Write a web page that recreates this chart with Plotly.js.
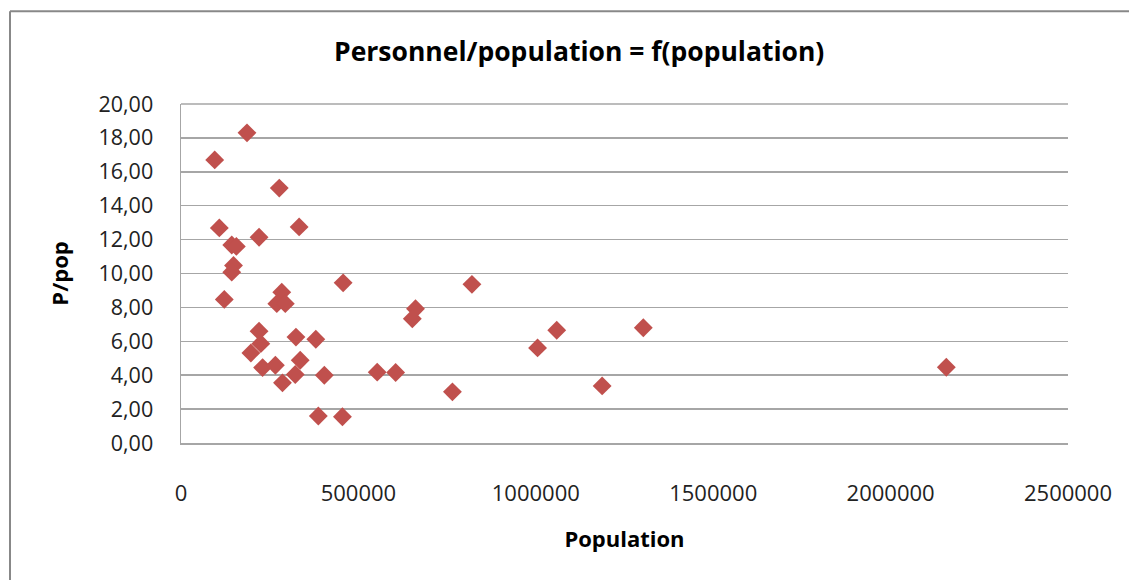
<!DOCTYPE html>
<html>
<head>
<meta charset="utf-8">
<script src="https://cdn.plot.ly/plotly-3.0.1.min.js"></script>
<style>html,body{margin:0;padding:0;background:#fff;}#chart{width:1129px;height:580px;}</style>
</head>
<body>
<div id="chart"></div>
<script>
// Population (x) and personnel/population ratio (y)
const population = [95000, 186000, 277000, 108000, 220000, 333000, 143000, 156000, 148000, 143000,
  122000, 284000, 270000, 294000, 457000, 820000, 661000, 652000, 220000, 225000,
  197000, 324000, 380000, 230000, 266000, 336000, 322000, 286000, 404000, 553000,
  605000, 765000, 387000, 455000, 1059000, 1005000, 1303000, 1187000, 2157000];
const ratio = [16.70, 18.30, 15.04, 12.69, 12.14, 12.75, 11.68, 11.60, 10.47, 10.08,
  8.47, 8.90, 8.22, 8.22, 9.45, 9.36, 7.92, 7.33, 6.60, 5.86,
  5.31, 6.25, 6.12, 4.45, 4.59, 4.88, 4.04, 3.55, 4.00, 4.18,
  4.16, 3.02, 1.59, 1.55, 6.65, 5.61, 6.80, 3.37, 4.47];
const yTicks = [0, 2, 4, 6, 8, 10, 12, 14, 16, 18, 20];
const yTickText = ["0,00", "2,00", "4,00", "6,00", "8,00", "10,00", "12,00", "14,00", "16,00", "18,00", "20,00"];
const xTicks = [0, 500000, 1000000, 1500000, 2000000, 2500000];
const xTickText = ["0", "500000", "1000000", "1500000", "2000000", "2500000"];

const font = "Open Sans, Noto Sans, sans-serif";
const trace = {
  type: "scatter", mode: "markers", x: population, y: ratio,
  marker: {symbol: "diamond", size: 14.5, color: "#C0504D", line: {width: 0}},
  showlegend: false, hoverinfo: "skip"
};
const layout = {
  width: 1129, height: 580,
  margin: {l: 181, r: 61, t: 103.5, b: 137},
  paper_bgcolor: "#ffffff", plot_bgcolor: "#ffffff",
  font: {family: font, color: "#000000", size: 21},
  title: {text: "<b>Personnel/population = f(population)</b>", font: {family: font, size: 26.5, color: "#000"},
          x: 0.513, xanchor: "center", y: 1 - 52/580, yanchor: "middle"},
  xaxis: {range: [0, 2500000], tickvals: xTicks, ticktext: xTickText, showgrid: false,
          zeroline: false, showline: true, linecolor: "#A6A6A6", linewidth: 1.5,
          ticks: "", ticklabelstandoff: 30, tickfont: {family: font, size: 22, color: "#222"},
          title: {text: "<b>Population</b>", font: {family: font, size: 22, color: "#000"}, standoff: 25},
          automargin: false, fixedrange: true},
  yaxis: {range: [0, 20], tickvals: yTicks, ticktext: yTickText, showgrid: true,
          gridcolor: "#A6A6A6", gridwidth: 1.5, zeroline: false, showline: true,
          linecolor: "#A6A6A6", linewidth: 1.5, ticks: "", ticklabelstandoff: 22,
          tickfont: {family: font, size: 21.5, color: "#222"},
          title: {text: "<b>P/pop</b>", font: {family: font, size: 22, color: "#000"}, standoff: 24},
          automargin: false, fixedrange: true},
  shapes: [
    {type: "line", xref: "paper", yref: "paper", x0: 0, x1: 1, y0: 1, y1: 1, line: {color: "#A6A6A6", width: 1.5}}
  ]
};
// outer chart frame (left and top edges), drawn in pixel-derived paper fractions
const W = 1129 - 181 - 61, H = 580 - 103.5 - 137;
layout.shapes.push({type: "line", xref: "paper", yref: "paper", layer: "above",
  x0: (10 - 181) / W, x1: (10 - 181) / W, y0: -(580 - 443) / H - 0.01, y1: 1 + (103.5 - 10.5) / H,
  line: {color: "#888888", width: 2}});
layout.shapes.push({type: "line", xref: "paper", yref: "paper", layer: "above",
  x0: (10 - 181) / W, x1: (1129 - 181) / W + 0.01, y0: 1 + (103.5 - 10.5) / H, y1: 1 + (103.5 - 10.5) / H,
  line: {color: "#888888", width: 2}});
Plotly.newPlot("chart", [trace], layout, {staticPlot: true, displayModeBar: false});
</script>
</body>
</html>
